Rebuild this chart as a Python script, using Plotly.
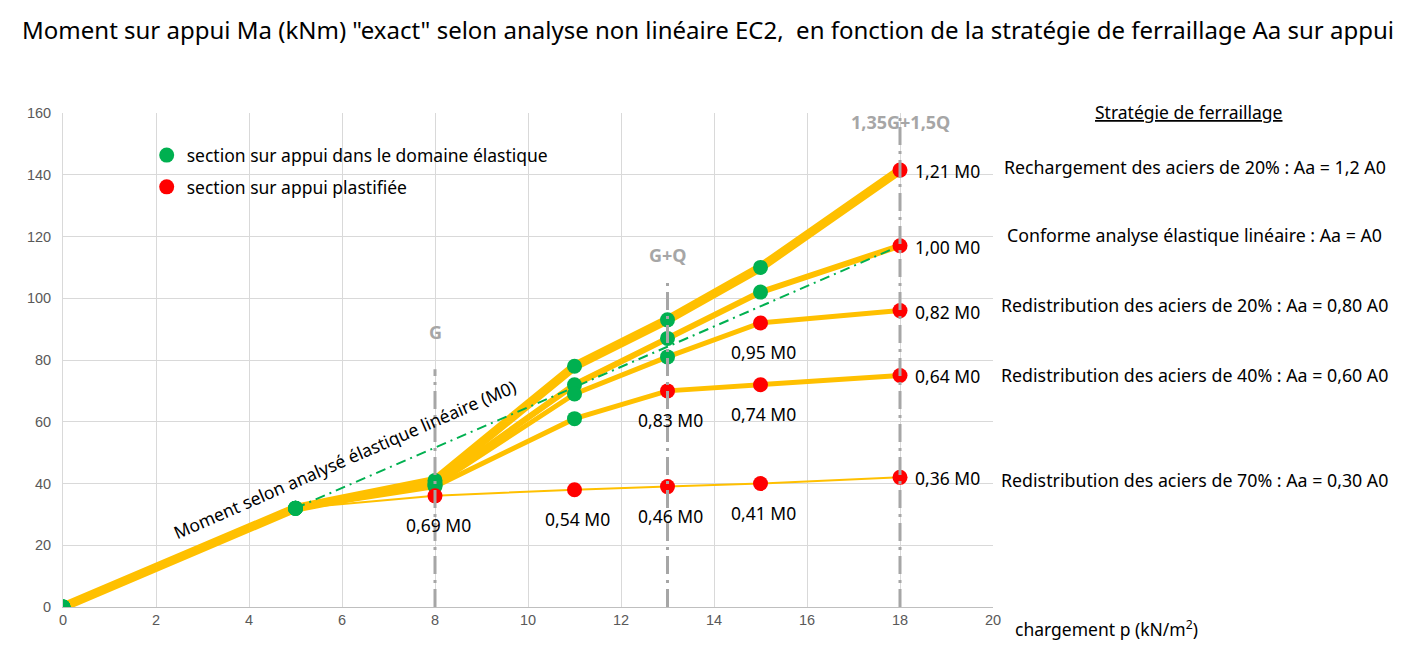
import plotly.graph_objects as go

# ---------------- data ----------------
x_load = [0, 5, 8, 11, 13, 15, 18]

series_names = ["Aa = 1,2 A0", "Aa = A0", "Aa = 0,80 A0", "Aa = 0,60 A0", "Aa = 0,30 A0"]
ma_12 = [0, 32, 41, 78, 93, 110, 141.5]
ma_10 = [0, 32, 40, 72, 87, 102, 117]
ma_08 = [0, 32, 39.5, 69, 81, 92, 96]
ma_06 = [0, 32, 39, 61, 70, 72, 75]
ma_03 = [0, 32, 36, 38, 39, 40, 42]

# e = section élastique, p = section plastifiée
state_12 = ["e", "e", "e", "e", "e", "e", "p"]
state_10 = ["e", "e", "e", "e", "e", "e", "p"]
state_08 = ["e", "e", "e", "e", "e", "p", "p"]
state_06 = ["e", "e", "e", "e", "p", "p", "p"]
state_03 = ["e", "e", "p", "p", "p", "p", "p"]

# ratio Ma / M0 labels
ratio_12 = ["", "", "", "", "", "", "1,21 M0"]
ratio_10 = ["", "", "", "", "", "", "1,00 M0"]
ratio_08 = ["", "", "", "", "", "0,95 M0", "0,82 M0"]
ratio_06 = ["", "", "", "", "0,83 M0", "0,74 M0", "0,64 M0"]
ratio_03 = ["", "", "0,69 M0", "0,54 M0", "0,46 M0", "0,41 M0", "0,36 M0"]

# linear elastic moment M0
m0_x = [5, 18]
m0_y = [32, 117]

# load cases
case_x = [8, 13, 18]
case_top = [77, 105, 160]
case_labels = ["G", "G+Q", "1,35G+1,5Q"]
case_label_y = [89, 114, 157]

strategy_title = "Stratégie de ferraillage"
strategy_labels = [
    "Rechargement des aciers de 20% : Aa = 1,2 A0",
    "Conforme analyse élastique linéaire : Aa = A0",
    "Redistribution des aciers de 20% : Aa = 0,80 A0",
    "Redistribution des aciers de 40% : Aa = 0,60 A0",
    "Redistribution des aciers de 70% : Aa = 0,30 A0",
]
strategy_y = [142.5, 120.5, 97.8, 75.1, 41.1]

# ---------------- styles ----------------
GOLD = "#FFC000"
GREEN = "#00B050"
RED = "#FF0000"
GREY = "#A6A6A6"
FONT = "Noto Sans"

all_series = [ma_12, ma_10, ma_08, ma_06, ma_03]
all_states = [state_12, state_10, state_08, state_06, state_03]
all_ratios = [ratio_12, ratio_10, ratio_08, ratio_06, ratio_03]
widths = [9, 6, 5, 5, 2]

fig = go.Figure()

for ys, w, name in zip(all_series, widths, series_names):
    fig.add_trace(go.Scatter(x=x_load, y=ys, mode="lines", name=name,
                             line=dict(color=GOLD, width=w), showlegend=False,
                             hoverinfo="skip"))

fig.add_trace(go.Scatter(x=m0_x, y=m0_y, mode="lines", showlegend=False,
                         line=dict(color=GREEN, width=2, dash="10px,5px,2px,5px"),
                         hoverinfo="skip"))

gx, gy, rx, ry = [], [], [], []
for ys, st in zip(all_series, all_states):
    for xv, yv, s in zip(x_load, ys, st):
        if s == "e":
            gx.append(xv); gy.append(yv)
        else:
            rx.append(xv); ry.append(yv)

fig.add_trace(go.Scatter(x=gx, y=gy, mode="markers",
                         name="section sur appui dans le domaine élastique",
                         legendgroup="g",
                         marker=dict(color=GREEN, size=15)))
fig.add_trace(go.Scatter(x=rx, y=ry, mode="markers",
                         name="section sur appui plastifiée",
                         legendgroup="r",
                         marker=dict(color=RED, size=15)))

for cx, ct in zip(case_x, case_top):
    fig.add_trace(go.Scatter(x=[cx, cx], y=[0, ct], mode="lines", showlegend=False,
                             line=dict(color=GREY, width=3, dash="18px,6px,3px,6px"),
                             hoverinfo="skip"))

annotations = []
for cx, cl, cy in zip(case_x, case_labels, case_label_y):
    annotations.append(dict(x=cx, y=cy, text="<b>" + cl + "</b>", showarrow=False,
                            font=dict(family=FONT, size=18, color=GREY)))

for ys, rl in zip(all_series, all_ratios):
    for xv, yv, t in zip(x_load, ys, rl):
        if not t:
            continue
        if xv == x_load[-1]:
            annotations.append(dict(x=xv, y=yv, text=t, showarrow=False,
                                    xanchor="left", xshift=13, yshift=-1,
                                    font=dict(family=FONT, size=17.5, color="#000000")))
        else:
            annotations.append(dict(x=xv, y=yv, text=t, showarrow=False,
                                    xanchor="center", xshift=3, yshift=-29,
                                    font=dict(family=FONT, size=17.5, color="#000000")))

annotations.append(dict(x=6.06, y=48.0, text="Moment selon analysé élastique linéaire (M0)",
                        showarrow=False, textangle=-23.5,
                        font=dict(family=FONT, size=17.5, color="#000000")))

annotations.append(dict(x=1.211, xref="paper", y=1.002, yref="paper", text=strategy_title,
                        showarrow=False, xanchor="center", yanchor="middle",
                        font=dict(family=FONT, size=17.5, color="#000000",
                                  lineposition="under")))
for t, yv in zip(strategy_labels, strategy_y):
    annotations.append(dict(x=1.217, xref="paper", y=yv, text=t, showarrow=False,
                            xanchor="center",
                            font=dict(family=FONT, size=17.8, color="#000000")))

annotations.append(dict(x=20, y=0, text="chargement p (kN/m<sup>2</sup>)", showarrow=False,
                        xanchor="left", xshift=20, yshift=-21,
                        font=dict(family=FONT, size=17.5, color="#000000")))

fig.update_layout(
    width=1416, height=650,
    margin=dict(l=63, r=423, t=113, b=43),
    paper_bgcolor="white", plot_bgcolor="white",
    title=dict(text='Moment sur appui Ma (kNm) "exact" selon analyse non linéaire EC2,  en fonction de la stratégie de ferraillage Aa sur appui',
               x=0.5, xanchor="center", y=0.953, yanchor="middle",
               font=dict(family=FONT, size=24, color="#000000")),
    legend=dict(x=0.090, y=0.951, xanchor="left", yanchor="top",
                bgcolor="rgba(0,0,0,0)", tracegroupgap=6,
                font=dict(family=FONT, size=17.5, color="#000000")),
    annotations=annotations,
    showlegend=True,
)
fig.update_xaxes(range=[0, 20], dtick=2, showgrid=True, gridcolor="#D9D9D9", gridwidth=1,
                 zeroline=False, showline=True, linecolor="#BFBFBF", mirror=False,
                 ticks="", tickfont=dict(family="Liberation Sans", size=14.5, color="#595959"))
fig.update_yaxes(range=[0, 160], dtick=20, showgrid=True, gridcolor="#D9D9D9", gridwidth=1,
                 zeroline=False, showline=True, linecolor="#D9D9D9",
                 ticks="", ticklabelstandoff=8,
                 tickfont=dict(family="Liberation Sans", size=14.5, color="#595959"))

fig.write_html("out.html")
